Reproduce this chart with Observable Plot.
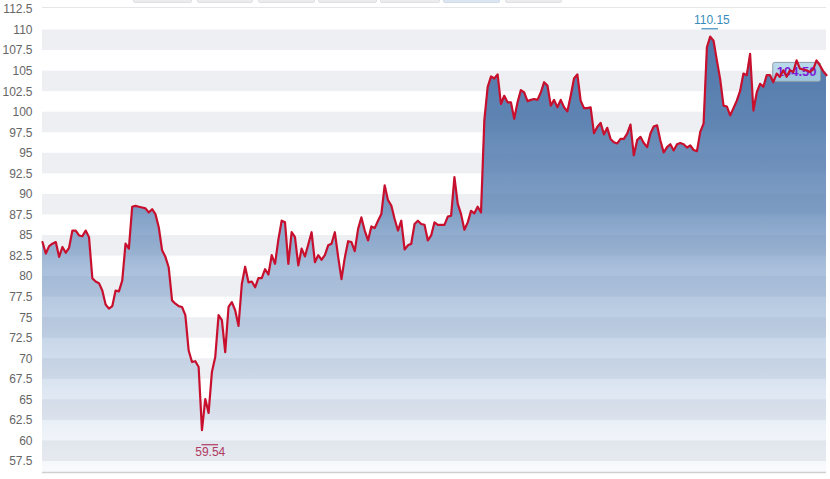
<!DOCTYPE html>
<html>
<head>
<meta charset="utf-8">
<script src="https://cdn.jsdelivr.net/npm/d3@7"></script>
<script src="https://cdn.jsdelivr.net/npm/@observablehq/plot@0.6"></script>
<style>
  body { margin: 0; background: #fff; }
  #wrap { position: relative; width: 830px; height: 479px; overflow: hidden; font-family: "Liberation Sans", Arial, sans-serif; }
  #tabs { position: absolute; top: 0; left: 0; width: 830px; height: 4px; }
  .tab { position: absolute; top: -2px; height: 5px; background: #ececef; border: 1px solid #e0e0e4; box-sizing: border-box; border-radius: 0 0 2px 2px; }
  .tab.on { background: #dce6f0; border-color: #d0dcea; }
</style>
</head>
<body>
<div id="wrap"><div id="tabs"></div></div>
<script>
// ---- data ----
const close = [
  84.2, 82.8, 83.7, 84.0, 84.2, 82.4, 83.6, 82.9, 83.5, 85.6, 85.6, 85.0, 84.9, 85.6, 84.8, 79.8, 79.4, 79.2, 78.3, 76.6,
  76.1, 76.4, 78.3, 78.2, 79.5, 84.0, 83.4, 88.5, 88.6, 88.5, 88.4, 88.3, 87.8, 88.2, 87.6, 86.0, 83.2, 82.4,
  81.1, 77.1, 76.7, 76.4, 76.3, 75.3, 71.0, 69.6, 69.7, 69.0, 61.3, 65.1, 63.4, 68.4, 70.2, 75.3, 74.7, 70.8, 76.3, 76.9,
  75.9, 74.0, 79.1, 81.2, 79.3, 79.4, 78.7, 79.8, 79.8, 80.9, 80.25, 82.6, 81.55, 84.5, 86.8, 86.6,
  81.55, 85.4, 84.8, 81.35, 83.4, 82.45, 83.9, 85.4, 81.75, 82.6, 82.05, 82.6, 83.8, 84.0, 85.4, 82.4, 79.7, 82.3, 84.3, 84.2,
  83.1, 85.8, 87.2, 85.6, 84.4, 86.1, 85.9, 86.8, 87.6, 91.1, 89.3, 88.65, 87.0, 85.6, 86.8, 83.3, 83.8, 84.0, 86.4, 86.8,
  86.4, 86.3, 84.4, 85.0, 86.6, 86.3, 86.3, 86.3, 87.3, 87.4, 92.1, 88.85, 87.6, 85.7, 86.6, 88.0, 87.7, 88.5, 87.8,
  99.0, 103.05, 104.35, 104.1, 104.6, 101.0, 102.0, 101.2, 101.2, 99.2, 101.2, 102.7, 102.4, 101.35, 101.5, 101.6, 101.5, 102.4, 103.65, 103.25,
  100.8, 101.5, 100.6, 101.5, 100.6, 100.1, 102.0, 104.1, 104.6, 101.4, 100.5, 100.5, 100.6, 97.45, 98.2, 98.7, 97.3, 98.1, 96.75, 96.35, 96.2,
  96.75, 96.75, 97.4, 98.5, 94.75, 96.6, 97.0, 96.25, 95.75, 97.4, 98.25, 98.4, 96.55, 95.1, 95.75, 96.1, 95.35, 96.1, 96.25, 96.1,
  95.7, 95.95, 95.4, 95.25, 97.6, 98.6, 107.9, 109.2, 108.7, 106.3, 104.0, 100.8, 100.7, 99.6, 100.5, 101.4, 102.6, 104.7, 104.5, 107.1,
  100.2, 102.4, 103.45, 103.1, 104.5, 104.5, 103.65, 104.7, 104.3, 105.1, 104.3, 105.1, 104.9, 106.3, 105.3, 105.2, 105.1, 104.9, 105.2, 106.3,
  105.7, 105.0, 104.5
];
const yTicks = [57.5, 60, 62.5, 65, 67.5, 70, 72.5, 75, 77.5, 80, 82.5, 85, 87.5, 90, 92.5, 95, 97.5, 100, 102.5, 105, 107.5, 110, 112.5];
const yTickLabels = ["57.5", "60", "62.5", "65", "67.5", "70", "72.5", "75", "77.5", "80", "82.5", "85", "87.5", "90", "92.5", "95", "97.5", "100", "102.5", "105", "107.5", "110", "112.5"];
const highLabel = "110.15";
const highLevel = 110.15;
const lowLabel = "59.54";
const lowLevel = 59.54;
const lastLabel = "104.50";

// ---- derived tables ----
const series = close.map((v, i) => ({i, v}));
const bands = [];
for (let k = 0; k + 1 < yTicks.length - 1; k += 2) bands.push({lo: yTicks[k], hi: yTicks[k + 1]});
const maxI = d3.maxIndex(close);
const minI = d3.minIndex(close);
const lastI = close.length - 1;
const yDomain = [56.16, 112.74];

const FONT = '"Liberation Sans", Arial, Helvetica, sans-serif';
const highColor = "#3a8cbc";
const lowColor = "#b03a62";

const chart = Plot.plot({
  width: 830,
  height: 479,
  marginTop: 7,
  marginBottom: 7,
  marginLeft: 42,
  marginRight: 4,
  style: {fontFamily: FONT, fontSize: "12px", color: "#666", background: "transparent"},
  x: {axis: null, domain: [0, lastI]},
  y: {domain: yDomain, ticks: yTicks, tickFormat: d => yTickLabels[yTicks.indexOf(d)], tickSize: 0, tickPadding: 10, label: null},
  marks: [
    Plot.rect(bands, {y1: "lo", y2: "hi", fill: "#eeeff2"}),
    Plot.ruleY([yDomain[1]], {stroke: "#e6e6e8"}),
    Plot.areaY(series, {x: "i", y1: () => yDomain[0], y2: "v", fill: "url(#areaGrad)"}),
    Plot.ruleY([yDomain[0]], {stroke: "#d0d0d0", strokeWidth: 1.5}),
    Plot.ruleY([highLevel], {x1: maxI - 2.5, x2: maxI + 2.5, stroke: highColor, strokeWidth: 1.2}),
    Plot.text([highLabel], {x: maxI + 0.5, y: highLevel, text: d => d, dy: -9, fill: highColor, fontSize: 12}),
    Plot.ruleY([lowLevel], {x1: minI, x2: minI + 5, stroke: lowColor, strokeWidth: 1.2}),
    Plot.text([lowLabel], {x: minI + 2.5, y: lowLevel, text: d => d, dy: 7, fill: lowColor, fontSize: 12}),
    Plot.text([lastLabel], {x: lastI, y: close[lastI], text: d => d, textAnchor: "end", dx: -10, dy: -3, fill: "#7a1fd8", fontSize: 13, fontWeight: "bold"}),
    Plot.lineY(series, {x: "i", y: "v", stroke: "#c8102e", strokeWidth: 2.2, strokeLinejoin: "round"})
  ]
});

document.getElementById("wrap").appendChild(chart);

// gradient for the area, placed with the y scale
const ys = chart.scale("y");
const svg = d3.select(chart);
const yTop = ys.apply(yDomain[1]);
const yBot = ys.apply(yDomain[0]);
const grad = svg.insert("defs", ":first-child").append("linearGradient")
  .attr("id", "areaGrad").attr("gradientUnits", "userSpaceOnUse")
  .attr("x1", 0).attr("x2", 0).attr("y1", yTop).attr("y2", yBot);
const stops = [
  {v: 112.74, c: "rgb(66,108,163)", o: 0.95},
  {v: 100, c: "rgb(76,118,170)", o: 0.9},
  {v: 88, c: "rgb(90,130,180)", o: 0.77},
  {v: 81, c: "rgb(100,140,190)", o: 0.56},
  {v: 66, c: "rgb(110,150,200)", o: 0.23},
  {v: 61, c: "rgb(115,152,202)", o: 0.12},
  {v: 56.16, c: "rgb(120,155,205)", o: 0.05}
];
stops.forEach(s => grad.append("stop")
  .attr("offset", (ys.apply(s.v) - yTop) / (yBot - yTop))
  .attr("stop-color", s.c).attr("stop-opacity", s.o));

// box behind the last-value label (same local coordinates as the text)
svg.selectAll("text").filter(function() { return this.textContent.trim() === lastLabel; }).each(function() {
  const b = this.getBBox();
  const r = document.createElementNS("http://www.w3.org/2000/svg", "rect");
  const t = this.getAttribute("transform");
  if (t) r.setAttribute("transform", t);
  r.setAttribute("x", b.x - 4);
  r.setAttribute("y", b.y - 2);
  r.setAttribute("width", b.width + 8);
  r.setAttribute("height", b.height + 4);
  r.setAttribute("rx", 2);
  r.setAttribute("fill", "rgb(170,210,230)");
  r.setAttribute("fill-opacity", 0.85);
  r.setAttribute("stroke", "#8c9aa6");
  r.setAttribute("stroke-width", 1);
  this.parentNode.insertBefore(r, this);
});

// faint tab strip at the very top
const tabSpans = [[133, 192], [197, 253], [258, 315], [318, 377], [380, 440], [443, 500], [505, 562]];
const tabsEl = document.getElementById("tabs");
tabSpans.forEach((t, k) => {
  const d = document.createElement("div");
  d.className = "tab" + (k === 5 ? " on" : "");
  d.style.left = t[0] + "px";
  d.style.width = (t[1] - t[0]) + "px";
  tabsEl.appendChild(d);
});
</script>
</body>
</html>
